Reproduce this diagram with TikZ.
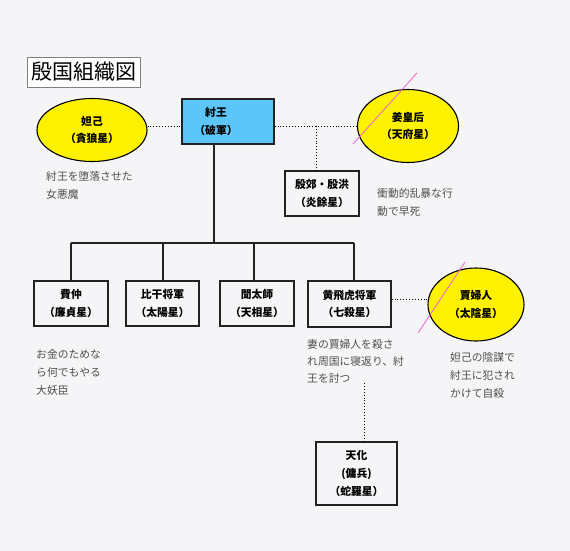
\documentclass[tikz,border=0pt]{standalone}
\usepackage{fontspec}
\setmainfont{Noto Sans CJK JP}
\usetikzlibrary{shapes.geometric}
\definecolor{bg}{HTML}{F5F4F6}
\definecolor{kingblue}{HTML}{5CC6F8}
\definecolor{pinkline}{HTML}{F060D0}
\definecolor{cmtgray}{HTML}{505050}
\definecolor{frame}{HTML}{222222}
\tikzset{
  box/.style={draw=frame, line width=1.2pt, rectangle, inner sep=0pt, align=center,
    font=\fontsize{10.8}{17.5}\selectfont\bfseries},
  ellnode/.style={ellipse, draw=black, line width=1.1pt, fill=yellow, inner sep=0pt,
    align=center, font=\fontsize{10.8}{17.5}\selectfont\bfseries},
  dotline/.style={line width=0.9pt, dotted},
  solidline/.style={line width=1.2pt, draw=frame},
  cmt/.style={anchor=north west, align=left, inner sep=0pt, text=cmtgray,
    font=\fontsize{10.8}{18}\selectfont},
  crossmark/.style={draw=pinkline, line width=0.8pt}
}
\begin{document}
\begin{tikzpicture}[x=1pt,y=-1pt]
\fill[bg] (0,0) rectangle (570,551);
\useasboundingbox (0,0) rectangle (570,551);

% title
\node[draw=black!50, line width=0.8pt, fill=white, minimum width=113, minimum height=30,
  inner sep=0pt, font=\fontsize{21}{21}\selectfont] (title) at (83.5,72) {殷国組織図};

% top row
\node[ellnode, minimum width=110, minimum height=63] (dakki) at (92,130) {妲己\\（貪狼星）};
\node[box, fill=kingblue, minimum width=92, minimum height=45] (king) at (228,121.5) {};
\node[inner sep=0pt, align=center, font=\fontsize{10.8}{17.5}\selectfont\bfseries] (kingtxt) at (216,121.5) {紂王\\（破軍）};
\node[ellnode, minimum width=101, minimum height=73] (kyo) at (408,126) {姜皇后\\（天府星）};
\node[box, minimum width=74, minimum height=45] (inko) at (322,193.5) {殷郊・殷洪\\（炎餘星）};

% second row
\node[box, minimum width=74, minimum height=45] (b1) at (71,303.5) {費仲\\（廉貞星）};
\node[box, minimum width=73, minimum height=45] (b2) at (162.5,303.5) {比干将軍\\（太陽星）};
\node[box, minimum width=74, minimum height=45] (b3) at (257,303.5) {聞太師\\（天相星）};
\node[box, minimum width=83, minimum height=46] (b4) at (349.5,304) {黄飛虎将軍\\（七殺星）};
\node[ellnode, minimum width=96, minimum height=73] (kafu) at (476,304.5) {賈婦人\\（太陰星）};

% bottom
\node[box, minimum width=81, minimum height=63, font=\fontsize{10.8}{18}\selectfont\bfseries] (tenka) at (356.5,473.5) {天化\\(傭兵)\\（蛇羅星）};

% comments
\node[cmt] (c1) at (46,171) {紂王を堕落させた\\女悪魔};
\node[cmt] (c2) at (377,188) {衝動的乱暴な行\\動で早死};
\node[cmt] (c3) at (36,349) {お金のためな\\ら何でもやる\\大妖臣};
\node[cmt, font=\fontsize{10.8}{17}\selectfont] (c4) at (307,339) {妻の賈婦人を殺さ\\れ周国に寝返り、紂\\王を討つ};
\node[cmt] (c5) at (450,352) {妲己の陰謀で\\紂王に犯され\\かけて自殺};

% connectors
\coordinate (r1) at (0,126);
\draw[dotline] (dakki.east |- r1) -- (king.west |- r1);
\draw[dotline] (king.east |- r1) -- (kyo.west |- r1);
\coordinate (j1) at (316,126);
\draw[dotline] (j1) -- (j1 |- inko.north);

\coordinate (t) at (214,243);
\coordinate (h1) at (71,243);
\coordinate (h2) at (163,243);
\coordinate (h3) at (254,243);
\coordinate (h4) at (354,243);
\draw[solidline] (t |- king.south) -- (t);
\draw[solidline] (h1) -- (h4);
\draw[solidline] (h1) -- (h1 |- b1.north);
\draw[solidline] (h2) -- (h2 |- b2.north);
\draw[solidline] (h3) -- (h3 |- b3.north);
\draw[solidline] (h4) -- (h4 |- b4.north);

\coordinate (r2) at (0,299);
\draw[dotline] (b4.east |- r2) -- (kafu.west |- r2);

\coordinate (tk) at (364,383);
\draw[dotline] (tk) -- (tk |- tenka.north);

% cross marks
\draw[crossmark] (353,144) -- (417,73);
\draw[crossmark] (418,333) -- (465,262);
\end{tikzpicture}
\end{document}
